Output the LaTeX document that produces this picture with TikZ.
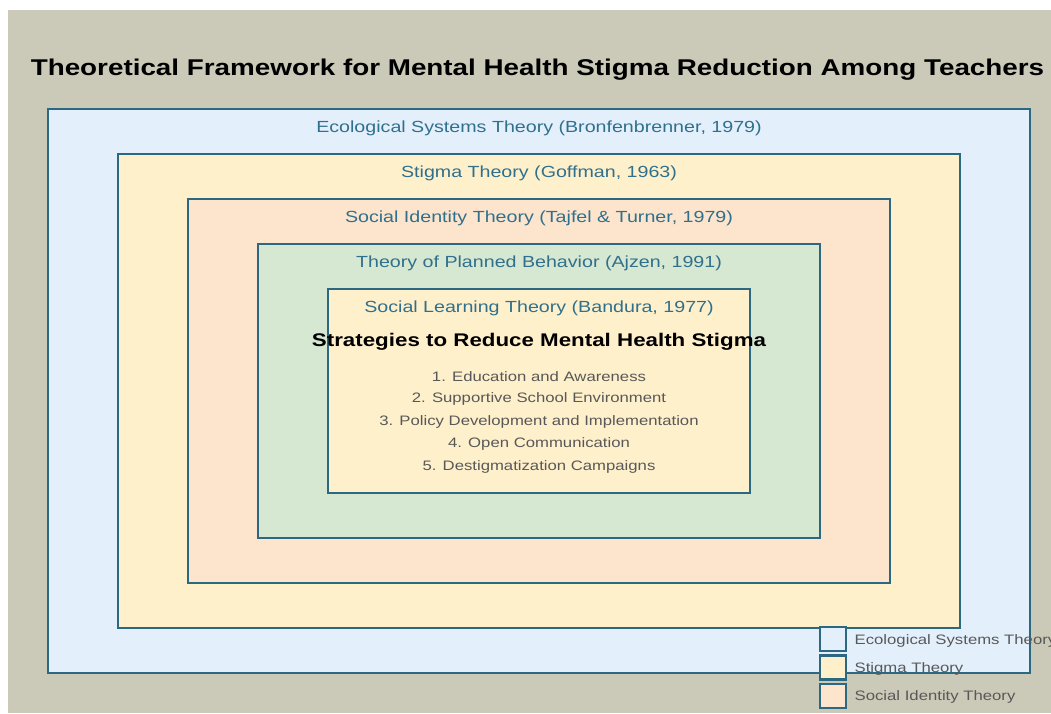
\documentclass[tikz,border=0pt]{standalone}
\usepackage{fontspec}
\setmainfont{Liberation Sans}
\usetikzlibrary{positioning}

\definecolor{edgeblue}{HTML}{2C6882}
\definecolor{theorytxt}{HTML}{30708C}
\definecolor{itemgray}{HTML}{585858}
\definecolor{canvas}{HTML}{CBCAB8}
\definecolor{ecofill}{HTML}{E3F0FC}
\definecolor{creamfill}{HTML}{FFF0CC}
\definecolor{peachfill}{HTML}{FCE4CD}
\definecolor{greenfill}{HTML}{D7E8D2}

\begin{document}
\begin{tikzpicture}[x=1pt,y=-1pt,
  wide/.style={xscale=1.22, transform shape},
  layer/.style={draw=edgeblue, line width=2.7pt, inner sep=0pt, outer sep=0pt},
  theory/.style={wide, text=theorytxt, font=\fontsize{16.1}{19}\selectfont, yshift=-19.5pt},
  strategy/.style={wide, text=itemgray, font=\fontsize{13.7}{16}\selectfont},
  key/.style={draw=edgeblue, line width=2.2pt, minimum width=26pt, minimum height=24pt, inner sep=0pt},
  keytext/.style={wide, text=itemgray, font=\fontsize{13.7}{16}\selectfont, anchor=west, inner sep=2pt}]
  \useasboundingbox (0,0) rectangle (1051,713);
  \clip (0,0) rectangle (1051,713);
  \fill[canvas] (8,10) rectangle (1051,713);

  \node[wide, font=\bfseries\fontsize{22.8}{27}\selectfont] (title) at (537.5,70)
    {Theoretical Framework for Mental Health Stigma Reduction Among Teachers};

  % nested theory layers, all centred on the same point
  \node[layer, fill=ecofill, minimum width=982pt, minimum height=564pt] (eco) at (539,391) {};
  \node[theory] (ecolabel) at (eco.north) {Ecological Systems Theory (Bronfenbrenner, 1979)};
  \node[layer, fill=creamfill, minimum width=842pt, minimum height=474pt] (stigma) at (539,391) {};
  \node[theory] (stigmalabel) at (stigma.north) {Stigma Theory (Goffman, 1963)};
  \node[layer, fill=peachfill, minimum width=702pt, minimum height=384pt] (identity) at (539,391) {};
  \node[theory] (identitylabel) at (identity.north) {Social Identity Theory (Tajfel \& Turner, 1979)};
  \node[layer, fill=greenfill, minimum width=562pt, minimum height=294pt] (planned) at (539,391) {};
  \node[theory] (plannedlabel) at (planned.north) {Theory of Planned Behavior (Ajzen, 1991)};
  \node[layer, fill=creamfill, minimum width=422pt, minimum height=204pt] (learning) at (539,391) {};
  \node[theory] (learninglabel) at (learning.north) {Social Learning Theory (Bandura, 1977)};

  % strategies in the core
  \node[wide, font=\bfseries\fontsize{18.3}{21}\selectfont] (heading) at (539,341.5) {Strategies to Reduce Mental Health Stigma};
  \node[strategy] (item1) at (539,376.5) {1. Education and Awareness};
  \node[strategy] (item2) at (539,399) {2. Supportive School Environment};
  \node[strategy] (item3) at (539,421.5) {3. Policy Development and Implementation};
  \node[strategy] (item4) at (539,444) {4. Open Communication};
  \node[strategy] (item5) at (539,466.5) {5. Destigmatization Campaigns};

  % legend
  \node[key, fill=ecofill] (keyeco) at (833,639) {};
  \node[keytext] at (852,641) {Ecological Systems Theory};
  \node[key, fill=creamfill] (keystigma) at (833,667.5) {};
  \node[keytext] at (852,669) {Stigma Theory};
  \node[key, fill=peachfill] (keyidentity) at (833,696) {};
  \node[keytext] at (852,697) {Social Identity Theory};
\end{tikzpicture}
\end{document}
